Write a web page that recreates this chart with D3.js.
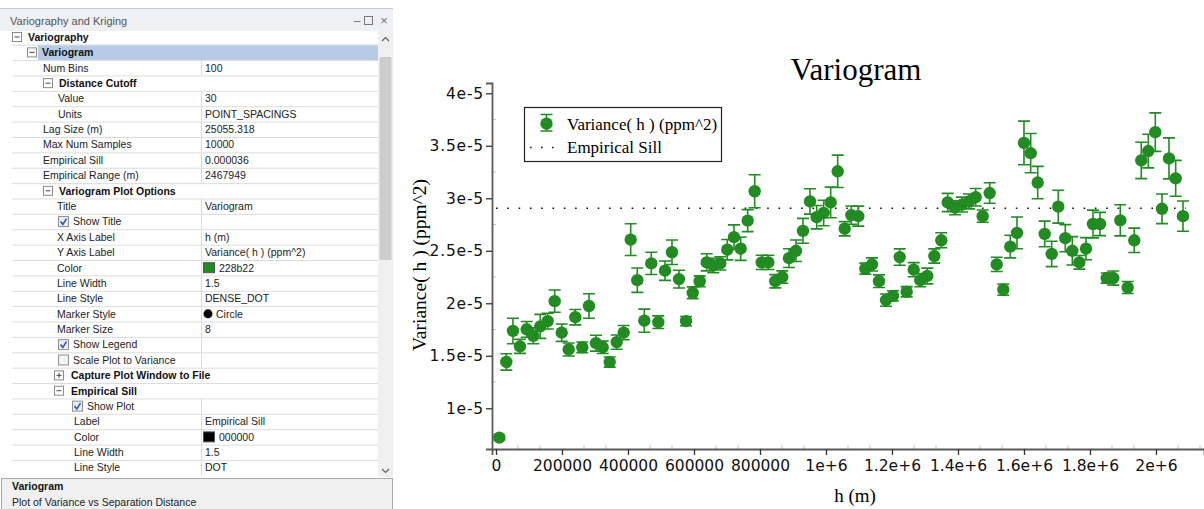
<!DOCTYPE html>
<html><head><meta charset="utf-8">
<script src="https://cdn.jsdelivr.net/npm/d3@7"></script>
<style>
html,body{margin:0;padding:0;background:#fff;overflow:hidden}
svg{display:block}
</style></head><body>
<svg id="c" width="1204" height="509"></svg>
<script>
// ---------- chart data ----------
// separation distance h (m) of each lag bin
const lagDistance = [10000,31200,51500,72700,93000,113000,134200,156700,177900,199100,
220300,240300,261500,281800,303000,323300,344500,365800,387000,408200,
428200,449400,470600,491800,512100,533300,554500,575800,596100,617300,
638500,658500,679700,700900,721200,741500,762700,783900,805200,825200,
846400,867600,887900,909100,930300,951500,971800,993000,1014200,1035500,
1056700,1076700,1097900,1119100,1139400,1160600,1181800,1203000,1223300,1244500,
1265800,1285800,1307000,1328200,1349400,1368800,1390900,1412100,1433300,1453600,
1474800,1496100,1517300,1537300,1558500,1578800,1600000,1620300,1641500,1662700,
1683900,1703900,1725200,1746400,1767600,1787900,1809100,1830300,1850600,1870600,
1891800,1914200,1934200,1955400,1976600,1997900,2018200,2039400,2059700,2081800];
// variance in units of 1e-6 ppm^2
const variance = [7.2,14.41,17.36,15.9,17.52,16.9,17.8,18.3,20.2,17.2,
15.6,18.67,15.8,19.74,16.2,15.8,14.4,16.3,17.2,26.06,
22.2,18.34,23.8,18.2,23.1,24.86,22.3,18.3,21.0,22.1,
23.9,23.6,23.8,25.1,26.3,25.2,27.87,30.67,23.9,23.9,
22.1,22.5,24.3,25.0,26.9,29.7,28.2,28.6,29.6,32.57,
27.1,28.4,28.3,23.3,23.7,22.1,20.3,20.7,24.4,21.1,
23.2,22.2,22.6,24.5,26.0,29.6,29.1,29.4,29.7,30.1,
28.3,30.5,23.7,21.3,25.4,26.7,35.27,34.3,31.5,26.6,
24.7,29.2,26.2,25.0,23.9,25.2,27.55,27.55,22.4,22.4,
27.9,21.5,26.0,33.6,34.5,36.3,29.0,33.8,31.9,28.3];
// half length of the error bars, same units
const varianceErr = [0.2,0.78,1.22,0.67,0.75,0.76,1.14,0.75,1.06,0.83,
0.62,0.73,0.51,1.16,0.76,0.59,0.48,0.68,0.68,1.51,
1.16,1.1,1.06,0.6,0.92,1.17,0.84,0.44,0.56,0.51,
0.81,0.68,0.63,0.97,1.17,1.11,1.05,1.57,0.68,0.68,
0.63,0.59,0.9,1.02,1.19,1.21,1.11,1.21,1.46,1.54,
0.68,0.87,0.95,0.52,0.62,0.6,0.59,0.49,0.78,0.49,
0.67,0.63,0.75,0.68,0.71,0.87,0.67,0.71,0.71,0.83,
0.59,0.98,0.68,0.54,1.08,1.51,2.08,1.87,1.54,1.22,
1.21,1.57,1.29,1.35,0.65,1.05,1.32,1.11,0.48,0.67,
1.48,0.57,1.16,1.73,1.6,1.83,1.41,1.95,1.71,1.44];
const empiricalSill = 29.05;
const xTickValues = [0,200000,400000,600000,800000,1000000,1200000,1400000,1600000,1800000,2000000];
const xTickLabels = ["0","200000","400000","600000","800000","1e+6","1.2e+6","1.4e+6","1.6e+6","1.8e+6","2e+6"];
const yTickValues = [10,15,20,25,30,35,40];
const yTickLabels = ["1e-5","1.5e-5","2e-5","2.5e-5","3e-5","3.5e-5","4e-5"];
const seriesName = "Variance( h ) (ppm^2)";
const sillName = "Empirical Sill";
const chartTitle = "Variogram";
const xLabel = "h (m)";

// ---------- property grid content ----------
const rows = [
 {t:"cat", label:"Variography", icon:17, x:28},
 {t:"cat", label:"Variogram", icon:32, x:42, sel:true},
 {t:"prop", label:"Num Bins", value:"100", x:43},
 {t:"cat", label:"Distance Cutoff", icon:48, x:59},
 {t:"prop", label:"Value", value:"30", x:58},
 {t:"prop", label:"Units", value:"POINT_SPACINGS", x:58},
 {t:"prop", label:"Lag Size (m)", value:"25055.318", x:43},
 {t:"prop", label:"Max Num Samples", value:"10000", x:43},
 {t:"prop", label:"Empirical Sill", value:"0.000036", x:43},
 {t:"prop", label:"Empirical Range (m)", value:"2467949", x:43},
 {t:"cat", label:"Variogram Plot Options", icon:48, x:59},
 {t:"prop", label:"Title", value:"Variogram", x:57},
 {t:"check", label:"Show Title", box:58, x:73, on:true},
 {t:"prop", label:"X Axis Label", value:"h (m)", x:57},
 {t:"prop", label:"Y Axis Label", value:"Variance( h ) (ppm^2)", x:57},
 {t:"color", label:"Color", value:"228b22", sw:"#228b22", x:57},
 {t:"prop", label:"Line Width", value:"1.5", x:57},
 {t:"prop", label:"Line Style", value:"DENSE_DOT", x:57},
 {t:"marker", label:"Marker Style", value:"Circle", x:57},
 {t:"prop", label:"Marker Size", value:"8", x:57},
 {t:"check", label:"Show Legend", box:58, x:73, on:true},
 {t:"check", label:"Scale Plot to Variance", box:58, x:73, on:false},
 {t:"cat", label:"Capture Plot Window to File", icon:59, x:71, collapsed:true},
 {t:"cat", label:"Empirical Sill", icon:59, x:71},
 {t:"check", label:"Show Plot", box:72, x:87, on:true},
 {t:"prop", label:"Label", value:"Empirical Sill", x:74},
 {t:"color", label:"Color", value:"000000", sw:"#000000", x:74},
 {t:"prop", label:"Line Width", value:"1.5", x:74},
 {t:"prop", label:"Line Style", value:"DOT", x:74}
];

const svg = d3.select("#c");
const uiFont = "'Liberation Sans', Arial, sans-serif";

// ---------- left panel ----------
const P = svg.append("g");
P.append("rect").attr("x",0).attr("y",8).attr("width",393).attr("height",23).attr("fill","#eef0f3");
P.append("line").attr("x1",0).attr("x2",393).attr("y1",8.5).attr("y2",8.5).attr("stroke","#c9ccd2");
P.append("text").attr("x",10).attr("y",25).attr("font-family",uiFont).attr("font-size",11)
 .attr("fill","#555").text("Variography and Kriging");
P.append("text").attr("x",357).attr("y",25).attr("font-family",uiFont).attr("font-size",12).attr("fill","#777").attr("text-anchor","middle").text("–");
P.append("rect").attr("x",364.5).attr("y",16.5).attr("width",8).attr("height",8).attr("fill","none").attr("stroke","#777");
P.append("text").attr("x",384).attr("y",25).attr("font-family",uiFont).attr("font-size",13).attr("fill","#777").attr("text-anchor","middle").text("×");

const rowH = 15.38, row0 = 37;
rows.forEach((r,i)=>{
  const cy = row0 + i*rowH, top = cy - rowH/2;
  const g = P.append("g");
  if (r.sel) g.append("rect").attr("x",38).attr("y",top).attr("width",340).attr("height",rowH).attr("fill","#b8cbe6");
  if (i>0) g.append("line").attr("x1",12).attr("x2",378).attr("y1",top+0.5).attr("y2",top+0.5).attr("stroke","#dcdcdc");
  const ty = cy + 3.8;
  if (r.t==="cat") {
    g.append("rect").attr("x",r.icon-4.5).attr("y",cy-4.5).attr("width",9).attr("height",9)
      .attr("fill","#fff").attr("stroke","#8a8a8a");
    g.append("line").attr("x1",r.icon-2.5).attr("x2",r.icon+2.5).attr("y1",cy).attr("y2",cy).attr("stroke","#444");
    if (r.collapsed) g.append("line").attr("x1",r.icon).attr("x2",r.icon).attr("y1",cy-2.5).attr("y2",cy+2.5).attr("stroke","#444");
    g.append("text").attr("x",r.x).attr("y",ty).attr("font-family",uiFont).attr("font-size",10.5)
      .attr("font-weight","bold").attr("fill","#111").text(r.label);
  } else {
    g.append("line").attr("x1",201.5).attr("x2",201.5).attr("y1",top).attr("y2",top+rowH).attr("stroke","#dcdcdc");
    if (r.t==="check") {
      g.append("rect").attr("x",r.box+0.5).attr("y",cy-5).attr("width",10).attr("height",10)
        .attr("fill", r.on?"#e6eefa":"#f4f4f4").attr("stroke","#8f8f8f");
      if (r.on) g.append("path").attr("d",`M${r.box+2.5},${cy} L${r.box+4.8},${cy+2.8} L${r.box+8.5},${cy-3}`)
        .attr("fill","none").attr("stroke","#3057a8").attr("stroke-width",1.6);
    }
    g.append("text").attr("x",r.x).attr("y",ty).attr("font-family",uiFont).attr("font-size",10.5)
      .attr("fill","#222").text(r.label);
    let vx = 205;
    if (r.t==="color") {
      g.append("rect").attr("x",203.5).attr("y",cy-5).attr("width",11).attr("height",10)
        .attr("fill",r.sw).attr("stroke","#555");
      vx = 219;
    }
    if (r.t==="marker") {
      g.append("circle").attr("cx",208).attr("cy",cy).attr("r",4.5).attr("fill","#000");
      vx = 216;
    }
    if (r.value) g.append("text").attr("x",vx).attr("y",ty).attr("font-family",uiFont).attr("font-size",10.5)
      .attr("fill","#222").text(r.value);
  }
});
// scrollbar
P.append("rect").attr("x",378).attr("y",31).attr("width",15).attr("height",446).attr("fill","#f0f0f0");
P.append("rect").attr("x",379.5).attr("y",57).attr("width",12).attr("height",203).attr("fill","#cdcdcd");
P.append("path").attr("d","M382,41 L385.5,37.5 L389,41").attr("fill","none").attr("stroke","#606060").attr("stroke-width",1.2);
P.append("path").attr("d","M382,469 L385.5,472.5 L389,469").attr("fill","none").attr("stroke","#606060").attr("stroke-width",1.2);
// description box
P.append("rect").attr("x",1.5).attr("y",478.5).attr("width",391).attr("height",40).attr("fill","#f0f0f0").attr("stroke","#a9a9a9");
P.append("text").attr("x",12).attr("y",490).attr("font-family",uiFont).attr("font-size",10.5).attr("font-weight","bold").attr("fill","#111").text("Variogram");
P.append("text").attr("x",12).attr("y",505.5).attr("font-family",uiFont).attr("font-size",10.5).attr("fill","#222").text("Plot of Variance vs Separation Distance");

// ---------- chart ----------
const green = "#228b22";
const x = d3.scaleLinear().domain([-12100, 2145500]).range([492, 1204]);
const y = d3.scaleLinear().domain([6.12, 40.98]).range([449, 83]);
const tickFont = "'DejaVu Sans', Verdana, sans-serif";
const serif = "'Liberation Serif', 'Times New Roman', serif";

// minor ticks
const xMinor = d3.range(0, 2140000, 200000/3).filter(v=>!xTickValues.some(t=>Math.abs(t-v)<1));
svg.append("g").selectAll("line").data(xMinor).join("line")
  .attr("x1",d=>x(d)).attr("x2",d=>x(d)).attr("y1",445).attr("y2",449).attr("stroke","#c4c4c4");
const yMinor = d3.range(7.5, 41, 2.5).filter(v=>!yTickValues.includes(v));
svg.append("g").selectAll("line").data(yMinor).join("line")
  .attr("x1",492).attr("x2",496).attr("y1",d=>y(d)).attr("y2",d=>y(d)).attr("stroke","#c4c4c4");

const xAxis = svg.append("g").attr("transform","translate(0,449)")
  .call(d3.axisBottom(x).tickValues(xTickValues).tickFormat((d,i)=>xTickLabels[i]).tickSizeOuter(0).tickSize(6).tickPadding(5));
xAxis.select(".domain").attr("stroke","#5a5a5a").attr("stroke-width",1.8);
xAxis.selectAll(".tick line").attr("stroke","#333").attr("stroke-width",1.3);
xAxis.selectAll("text").attr("font-family",tickFont).attr("font-size",15.5).attr("fill","#111");

const yAxis = svg.append("g").attr("transform","translate(492,0)")
  .call(d3.axisLeft(y).tickValues(yTickValues).tickFormat((d,i)=>yTickLabels[i]).tickSizeOuter(0).tickSize(6).tickPadding(2));
yAxis.select(".domain").attr("stroke","#5a5a5a").attr("stroke-width",1.8);
yAxis.selectAll(".tick line").attr("stroke","#333").attr("stroke-width",1.3);
yAxis.selectAll("text").attr("font-family",tickFont).attr("font-size",15.5).attr("fill","#111").attr("letter-spacing",0.8);

// empirical sill
svg.append("line").attr("x1",x(0)).attr("x2",x(d3.max(lagDistance))+3)
  .attr("y1",y(empiricalSill)).attr("y2",y(empiricalSill))
  .attr("stroke","#111").attr("stroke-width",1.6).attr("stroke-dasharray","1.6,9.7");

// error bars + points
const pts = lagDistance.map((h,i)=>({h, v:variance[i], e:varianceErr[i]}));
const cap = 6;
const eb = svg.append("g").attr("stroke",green).attr("stroke-width",1.6).attr("fill","none");
pts.forEach(p=>{
  const px = x(p.h), t = y(p.v+p.e), b = y(p.v-p.e);
  eb.append("path").attr("d",`M${px-cap},${t}H${px+cap}M${px},${t}V${b}M${px-cap},${b}H${px+cap}`);
});
svg.append("g").selectAll("circle").data(pts).join("circle")
  .attr("cx",d=>x(d.h)).attr("cy",d=>y(d.v)).attr("r",6.2).attr("fill",green);

// title & labels
svg.append("text").attr("x",856).attr("y",80).attr("text-anchor","middle").attr("font-family",serif)
  .attr("font-size",31).attr("fill","#000").text(chartTitle);
svg.append("text").attr("x",855).attr("y",502).attr("text-anchor","middle").attr("font-family",serif)
  .attr("font-size",19).attr("fill","#000").text(xLabel);
svg.append("text").attr("transform","translate(426,265) rotate(-90)").attr("text-anchor","middle").attr("font-family",serif)
  .attr("font-size",19.5).attr("fill","#000").text(seriesName);

// legend
const L = svg.append("g");
L.append("rect").attr("x",524.5).attr("y",107.5).attr("width",197).attr("height",54).attr("fill","#fff").attr("stroke","#222").attr("stroke-width",1.2);
L.append("path").attr("d","M540.5,114.5H552.5M546.5,114.5V131M540.5,131H552.5").attr("stroke",green).attr("stroke-width",1.6).attr("fill","none");
L.append("circle").attr("cx",546.5).attr("cy",123.7).attr("r",6.2).attr("fill",green);
L.append("line").attr("x1",530).attr("x2",554).attr("y1",147.5).attr("y2",147.5).attr("stroke","#111").attr("stroke-width",1.6).attr("stroke-dasharray","1.6,9.4");
L.append("text").attr("x",567).attr("y",129.5).attr("font-family",serif).attr("font-size",17).text(seriesName);
L.append("text").attr("x",567).attr("y",153).attr("font-family",serif).attr("font-size",17).text(sillName);
</script>
</body></html>
